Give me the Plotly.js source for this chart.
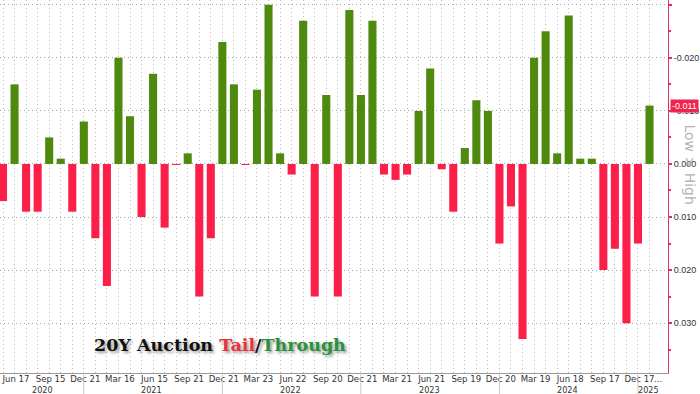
<!DOCTYPE html>
<html>
<head>
<meta charset="utf-8">
<script src="https://cdn.plot.ly/plotly-3.0.1.min.js"></script>
<style>html,body{margin:0;padding:0;background:#fff;}#chart{width:700px;height:394px;}</style>
</head>
<body>
<div id="chart"></div>
<script>
// Auction months (Jun 2020 .. Feb 2025)
const months = [
  "Jun 2020","Jul 2020","Aug 2020","Sep 2020","Oct 2020","Nov 2020","Dec 2020",
  "Jan 2021","Feb 2021","Mar 2021","Apr 2021","May 2021","Jun 2021","Jul 2021","Aug 2021","Sep 2021","Oct 2021","Nov 2021","Dec 2021",
  "Jan 2022","Feb 2022","Mar 2022","Apr 2022","May 2022","Jun 2022","Jul 2022","Aug 2022","Sep 2022","Oct 2022","Nov 2022","Dec 2022",
  "Jan 2023","Feb 2023","Mar 2023","Apr 2023","May 2023","Jun 2023","Jul 2023","Aug 2023","Sep 2023","Oct 2023","Nov 2023","Dec 2023",
  "Jan 2024","Feb 2024","Mar 2024","Apr 2024","May 2024","Jun 2024","Jul 2024","Aug 2024","Sep 2024","Oct 2024","Nov 2024","Dec 2024",
  "Jan 2025","Feb 2025"
];
// Tail (+) / Through (-) in yield terms
const tailThrough = [
  0.007,-0.015,0.009,0.009,-0.005,-0.001,0.009,
  -0.008,0.014,0.023,-0.020,-0.009,0.010,-0.017,0.012,0.0002,-0.002,0.025,0.014,
  -0.023,-0.015,0.0002,-0.014,-0.030,-0.002,0.002,-0.027,0.025,-0.013,0.025,-0.029,
  -0.013,-0.027,0.002,0.003,0.002,-0.010,-0.018,0.001,0.009,-0.003,-0.012,-0.010,
  0.015,0.008,0.033,-0.020,-0.025,-0.002,-0.028,-0.001,-0.001,0.020,0.016,0.030,
  0.015,-0.011
];
// X tick labels (every third auction)
const xTickMonths = ["Jun 2020","Sep 2020","Dec 2020","Mar 2021","Jun 2021","Sep 2021","Dec 2021","Mar 2022","Jun 2022","Sep 2022","Dec 2022","Mar 2023","Jun 2023","Sep 2023","Dec 2023","Mar 2024","Jun 2024","Sep 2024","Dec 2024"];
const xTickText = ["Jun 17","Sep 15","Dec 21","Mar 16","Jun 15","Sep 21","Dec 21","Mar 23","Jun 22","Sep 20","Dec 21","Mar 21","Jun 21","Sep 19","Dec 20","Mar 19","Jun 18","Sep 17","Dec 17"];
const years = ["2020","2021","2022","2023","2024","2025"];
// Y ticks
const yTickVals = [-0.03,-0.02,-0.01,0,0.01,0.02,0.03];
const yTickText = ["-0.030","-0.020","-0.010","0.000","0.010","0.020","0.030"];

const GREEN = "#4f8a0f", RED = "#fc1f4a";
const AXFONT = "Liberation Sans Narrow, DejaVu Sans Condensed, Liberation Sans, Arial, sans-serif";
const idx = months.map((m,i)=>i);
const colors = tailThrough.map(v => v < 0 ? GREEN : RED);

const tickvals = idx;
const ticktext = months.map(m => { const k = xTickMonths.indexOf(m); return k >= 0 ? xTickText[k] : ""; });

const shapes = [];
const annotations = [];
years.forEach(y => {
  const inYear = idx.filter(i => months[i].endsWith(y));
  const first = inYear[0], last = inYear[inYear.length-1];
  if (first > 0) {
    shapes.push({type:"line", xref:"x", yref:"paper", x0:first, x1:first, y0:0, y1:-0.06, line:{color:"#c8c8c8", width:1}});
  }
  annotations.push({xref:"x", yref:"paper", x:(first+last)/2+0.4, y:-0.046, yanchor:"middle", xanchor:"center", showarrow:false,
    text:y, font:{family:AXFONT, size:9, color:"#333"}});
});
annotations.push({xref:"x", yref:"paper", x:months.length-0.3, y:-0.014, yanchor:"middle", showarrow:false, text:"...",
  font:{family:AXFONT, size:9.5, color:"#333"}});
// Last value tag
const lastVal = tailThrough[tailThrough.length-1];
annotations.push({xref:"paper", yref:"y", x:1.003, y:lastVal, xanchor:"left", yanchor:"middle", showarrow:false,
  text:lastVal.toFixed(3), bgcolor:"#f0244f", borderpad:1, font:{family:"Liberation Sans, Arial, sans-serif", size:9, color:"#fff"}});
// Low > High rotated
annotations.push({xref:"paper", yref:"y", x:1.0315, y:0.0001, xanchor:"center", yanchor:"middle", showarrow:false,
  text:"Low > High", textangle:90, font:{family:"DejaVu Sans, sans-serif", size:14, color:"#b4b4b4"}});
// Title inside chart
annotations.push({xref:"paper", yref:"paper", x:0.138, y:0.074, xanchor:"left", yanchor:"middle", showarrow:false,
  text:"20Y Auction <span style='color:#e8333a'>Tail</span>/<span style='color:#27923a'>Through</span>",
  font:{family:"DejaVu Serif, Liberation Serif, serif", size:17.5, color:"#111", weight:"bold", shadow:"2px 2px 3px #999"}});

const trace = {
  type:"bar", x:idx, y:tailThrough, marker:{color:colors, line:{width:0}}, width:0.7,
  hoverinfo:"x+y"
};

const layout = {
  width:700, height:394,
  margin:{l:0, r:32, t:0, b:21},
  paper_bgcolor:"#fff", plot_bgcolor:"#fff",
  showlegend:false,
  font:{family:"Liberation Sans, Arial, sans-serif", size:10, color:"#333"},
  xaxis:{
    range:[-0.26, 57.6], tickmode:"array", tickvals:tickvals, ticktext:ticktext,
    showgrid:true, gridcolor:"#bcbcbc", griddash:"1px,3px", gridwidth:1,
    showline:true, linecolor:"#9a9a9a", linewidth:1, ticks:"", ticklabelshift:13, ticklabelstandoff:-3,
    tickfont:{family:AXFONT, size:9.5, color:"#333"}, zeroline:false, fixedrange:true
  },
  yaxis:{
    side:"right", range:[0.0394, -0.0309], tickmode:"array", tickvals:yTickVals, ticktext:yTickText,
    showgrid:true, gridcolor:"#a8a8a8", griddash:"1px,3px", gridwidth:1, zeroline:false,
    showline:true, linecolor:"#e0306a", linewidth:1, ticks:"outside", ticklen:3, tickcolor:"#e0306a", tickwidth:2,
    minor:{dtick:0.005, ticks:"outside", ticklen:2, tickcolor:"#e0306a", showgrid:false},
    tickfont:{family:"Liberation Sans, Arial, sans-serif", size:9, color:"#333"}, fixedrange:true
  },
  shapes:shapes, annotations:annotations, bargap:0.3
};
Plotly.newPlot("chart", [trace], layout, {displayModeBar:false, staticPlot:true});
</script>
</body>
</html>
